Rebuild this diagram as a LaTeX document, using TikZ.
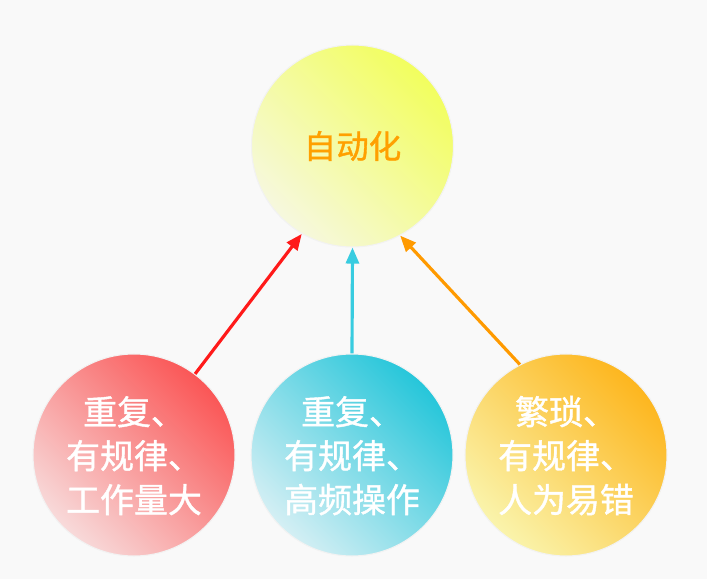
\documentclass[tikz,border=0pt]{standalone}
\usepackage{fontspec}
\newfontfamily\cjk[FakeBold=1.2]{Noto Sans CJK SC}
\usetikzlibrary{arrows.meta,positioning}
\definecolor{cBG}{HTML}{F9F9F9}
\definecolor{cAUTO}{HTML}{F2FE5E}
\definecolor{cAUTOm}{HTML}{F1FB9C}
\definecolor{cAUTOl}{HTML}{F6F8DE}
\definecolor{cAUTOt}{HTML}{FFA000}
\definecolor{cRED}{HTML}{FA5656}
\definecolor{cREDm}{HTML}{F78C8C}
\definecolor{cREDl}{HTML}{F8DADA}
\definecolor{cCYN}{HTML}{26C6DA}
\definecolor{cCYNm}{HTML}{62D4E4}
\definecolor{cCYNl}{HTML}{D4EFF4}
\definecolor{cORG}{HTML}{FDB61E}
\definecolor{cORGm}{HTML}{FBD15A}
\definecolor{cORGl}{HTML}{FAF4AC}
\definecolor{aRED}{HTML}{FF1A1A}
\definecolor{aCYN}{HTML}{38CCE0}
\definecolor{aORG}{HTML}{FF9A00}

\begin{document}
\begin{tikzpicture}[font=\cjk, >={Triangle[length=0.32cm,width=0.26cm]},
  ball/.style={circle, minimum size=4.04cm, inner sep=0pt, draw=black!5, line width=0.6pt, align=center},
  why/.style={ball, text=white, font=\cjk\fontsize{19.3}{25}\selectfont},
  link/.style={->, line width=1.8pt}]
\fill[cBG] (0,0) rectangle (14.14,-11.58);
\useasboundingbox (0,0) rectangle (14.14,-11.58);
\node[ball, top color=cAUTO, middle color=cAUTOm, bottom color=cAUTOl, shading angle=-45, text=cAUTOt, font=\cjk\fontsize{18.5}{22}\selectfont] (auto) at (7.05,-2.92) {\raisebox{-2.5pt}{自动化}};
\node[why, top color=cRED, middle color=cREDm, bottom color=cREDl, shading angle=-45] (rep) at (2.68,-9.10) {\\[-8pt]重复、\\有规律、\\工作量大};
\node[why, top color=cCYN, middle color=cCYNm, bottom color=cCYNl, shading angle=-45] (freq) at (7.04,-9.10) {\\[-8pt]重复、\\有规律、\\高频操作};
\node[why, top color=cORG, middle color=cORGm, bottom color=cORGl, shading angle=-45] (err) at (11.32,-9.10) {\\[-8pt]繁琐、\\有规律、\\人为易错};
\draw[link, aRED] (rep.53) -- (auto.240);
\draw[link, aCYN] (freq.north) -- (auto.south);
\draw[link, aORG] (err.117) -- (auto.298);
\end{tikzpicture}
\end{document}
